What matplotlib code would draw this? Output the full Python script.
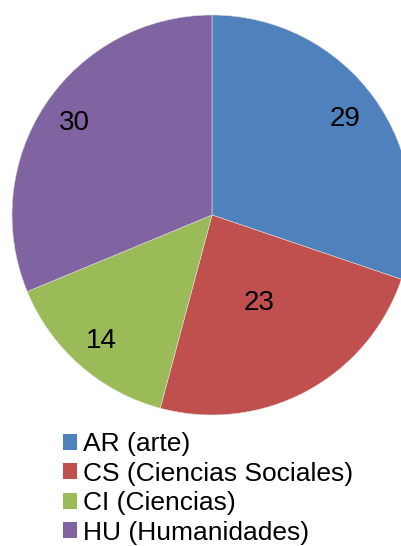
import matplotlib.pyplot as plt
import numpy as np
from matplotlib.patches import Patch

plt.rcParams['font.family'] = ['Liberation Sans', 'DejaVu Sans']

labels = ['AR (arte)', 'CS (Ciencias Sociales)', 'CI (Ciencias)', 'HU (Humanidades)']
values = [29, 23, 14, 30]
colors = ['#4F81BD', '#C0504D', '#9BBB59', '#8064A2']
label_dist = [0.82, 0.5, 0.84, 0.83]

fig = plt.figure(figsize=(4.01, 5.46), dpi=100)
ax = fig.add_axes([0, 0, 1, 1])

wedges, _ = ax.pie(values, colors=colors, startangle=90, counterclock=False,
                   radius=1.0, wedgeprops=dict(edgecolor='#dddddd', linewidth=0.4))

# value labels at each wedge's mid angle
for w, v, d in zip(wedges, values, label_dist):
    a = np.deg2rad((w.theta1 + w.theta2) / 2)
    ax.text(d * np.cos(a), d * np.sin(a), str(v), ha='center', va='center',
            fontsize=20, color='black')

ax.set_xlim(-212 / 200, 189 / 200)
ax.set_ylim(-331 / 200, 215 / 200)
ax.set_aspect('equal')
ax.axis('off')

handles = [Patch(facecolor=c, edgecolor='none') for c in colors]
fig.legend(handles, labels, loc='upper left', bbox_to_anchor=(63 / 401, 1 - 432 / 546),
           frameon=False, fontsize=19, borderpad=0, borderaxespad=0,
           handlelength=0.54, handleheight=0.54, handletextpad=0.2, labelspacing=0.21)

fig.savefig('out.png', dpi=100)
